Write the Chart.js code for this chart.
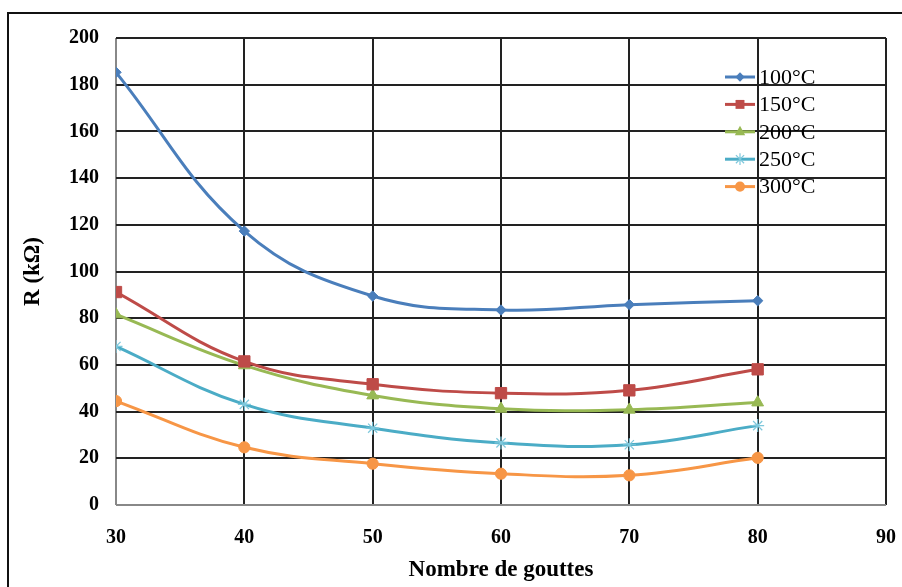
<!DOCTYPE html>
<html>
<head>
<meta charset="utf-8">
<script src="https://cdn.jsdelivr.net/npm/chart.js@4/dist/chart.umd.min.js"></script>
<style>
html,body{margin:0;padding:0;background:#fff;}
#c{display:block;}
</style>
</head>
<body>
<canvas id="c" width="902" height="587"></canvas>
<script>
const gouttes = [30, 40, 50, 60, 70, 80];
const r100 = [185.3, 117.3, 89.5, 83.5, 85.8, 87.5];
const r150 = [91.2, 61.5, 51.7, 47.9, 49.1, 58.1];
const r200 = [81.6, 59.8, 46.9, 41.2, 40.8, 43.9];
const r250 = [67.9, 43.1, 32.9, 26.6, 25.8, 34.0];
const r300 = [44.5, 24.7, 17.7, 13.4, 12.7, 20.2];
const seriesLabels = ['100°C', '150°C', '200°C', '250°C', '300°C'];
const xTicks = [30, 40, 50, 60, 70, 80, 90];
const yTicks = [0, 20, 40, 60, 80, 100, 120, 140, 160, 180, 200];

const colors = ['#4A7EBB', '#BE4B48', '#98B954', '#4BACC6', '#F79646'];
const markerColors = ['#4A7EBB', '#BE4B48', '#98B954', '#7EC8DC', '#F79646'];
const styles = ['rectRot', 'rect', 'triangle', 'star', 'circle'];
const radii = [5.2, 8, 6.8, 6.5, 5.6];
const seriesData = [r100, r150, r200, r250, r300];

const datasets = seriesData.map((arr, i) => ({
  label: seriesLabels[i],
  data: gouttes.map((g, j) => ({x: g, y: arr[j]})),
  borderColor: colors[i],
  backgroundColor: markerColors[i],
  pointBorderColor: markerColors[i],
  pointBackgroundColor: markerColors[i],
  pointStyle: styles[i],
  pointRadius: radii[i],
  pointBorderWidth: styles[i] === 'star' ? 1.2 : 1,
  borderWidth: 3,
  tension: 0.4,
  fill: false
}));

const serif = "'Liberation Serif', 'Times New Roman', serif";

const frame = {
  id: 'frame',
  beforeDraw(chart) {
    const ctx = chart.ctx;
    ctx.save();
    ctx.fillStyle = '#fff';
    ctx.fillRect(0, 0, chart.width, chart.height);
    ctx.strokeStyle = '#111';
    ctx.lineWidth = 2;
    ctx.strokeRect(8, 13, 1000, 1000);
    ctx.restore();
  }
};

function drawMarker(ctx, style, x, y, r, color) {
  ctx.save();
  ctx.fillStyle = color;
  ctx.strokeStyle = color;
  ctx.lineWidth = 1.2;
  ctx.beginPath();
  if (style === 'rectRot') {
    ctx.moveTo(x, y - r); ctx.lineTo(x + r, y); ctx.lineTo(x, y + r); ctx.lineTo(x - r, y); ctx.closePath(); ctx.fill();
  } else if (style === 'rect') {
    const h = r * 0.62;
    ctx.rect(x - h, y - h, 2 * h, 2 * h); ctx.fill();
  } else if (style === 'triangle') {
    ctx.moveTo(x, y - r); ctx.lineTo(x + r * 0.85, y + r * 0.55); ctx.lineTo(x - r * 0.85, y + r * 0.55); ctx.closePath(); ctx.fill();
  } else if (style === 'star') {
    ctx.moveTo(x - r * 0.7, y - r * 0.7); ctx.lineTo(x + r * 0.7, y + r * 0.7);
    ctx.moveTo(x + r * 0.7, y - r * 0.7); ctx.lineTo(x - r * 0.7, y + r * 0.7);
    ctx.moveTo(x, y - r); ctx.lineTo(x, y + r);
    ctx.stroke();
  } else {
    ctx.arc(x, y, r, 0, Math.PI * 2); ctx.fill();
  }
  ctx.restore();
}

const innerLegend = {
  id: 'innerLegend',
  afterDatasetsDraw(chart) {
    const ctx = chart.ctx;
    ctx.save();
    chart.data.datasets.forEach((ds, i) => {
      const y = 77 + i * 27.4;
      ctx.strokeStyle = ds.borderColor;
      ctx.lineWidth = 3;
      ctx.beginPath();
      ctx.moveTo(725, y); ctx.lineTo(755, y); ctx.stroke();
      drawMarker(ctx, ds.pointStyle, 740, y, ds.pointRadius * 0.9, ds.pointBackgroundColor);
      ctx.fillStyle = '#000';
      ctx.font = "22px " + serif;
      ctx.textBaseline = 'middle';
      ctx.textAlign = 'left';
      ctx.fillText(ds.label, 759, y + 1);
    });
    ctx.restore();
  }
};

new Chart(document.getElementById('c'), {
  type: 'line',
  data: { datasets },
  options: {
    responsive: false,
    animation: false,
    layout: { padding: { top: 38, right: 16, left: 0, bottom: 0 } },
    plugins: { legend: { display: false }, tooltip: { enabled: false } },
    scales: {
      x: {
        type: 'linear',
        min: 30, max: 90,
        afterBuildTicks(scale) { scale.ticks = xTicks.map(v => ({value: v})); },
        afterFit(scale) { scale.height = 82; scale.paddingRight = 0; scale.paddingLeft = 0; },
        grid: {
          drawTicks: false,
          lineWidth: 2,
          color: ctx => (ctx.tick && ctx.tick.value === 30) ? '#888' : '#222'
        },
        border: { display: false },
        ticks: {
          padding: 21,
          color: '#000',
          font: { family: serif, size: 20, weight: 'bold' }
        },
        title: {
          display: true,
          text: 'Nombre de gouttes',
          color: '#000',
          padding: { top: 0, bottom: 3 },
          font: { family: serif, size: 23, weight: 'bold' }
        }
      },
      y: {
        type: 'linear',
        min: 0, max: 200,
        afterBuildTicks(scale) { scale.ticks = yTicks.map(v => ({value: v})); },
        afterFit(scale) { scale.width = 116; scale.paddingTop = 0; scale.paddingBottom = 0; },
        grid: {
          drawTicks: false,
          lineWidth: 2,
          color: ctx => (ctx.tick && ctx.tick.value === 0) ? '#888' : '#222'
        },
        border: { display: false },
        ticks: {
          padding: 17,
          color: '#000',
          font: { family: serif, size: 20, weight: 'bold' }
        },
        title: {
          display: true,
          text: 'R (kΩ)',
          color: '#000',
          padding: { top: 19, bottom: 0 },
          font: { family: serif, size: 23, weight: 'bold' }
        }
      }
    }
  },
  plugins: [frame, innerLegend]
});
</script>
</body>
</html>
